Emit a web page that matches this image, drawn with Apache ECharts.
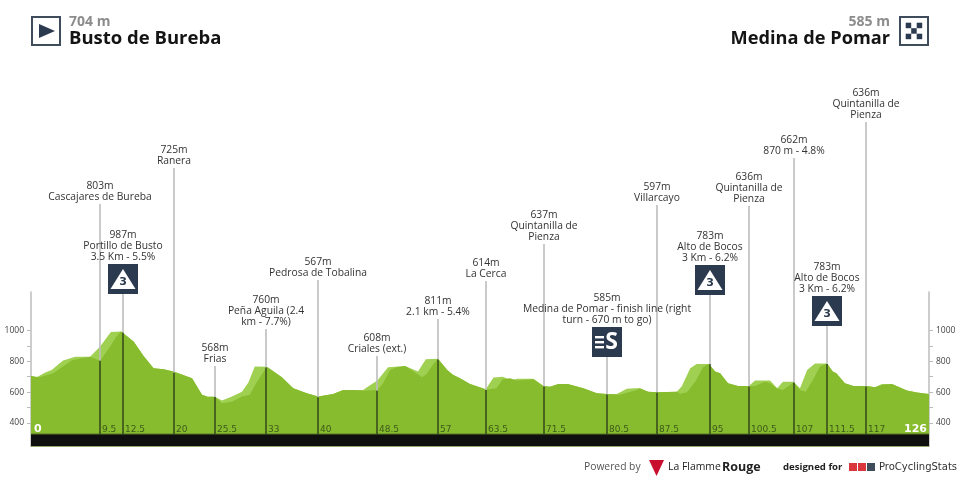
<!DOCTYPE html>
<html><head><meta charset="utf-8">
<style>html,body{margin:0;padding:0;background:#fff}#c{width:960px;height:480px}</style>
<script src="https://cdn.jsdelivr.net/npm/echarts@6/dist/echarts.min.js"></script>
</head><body><div id="c"></div>
<script>
const upperKm=[0,0.8,2,2.9,4.5,6.2,8.3,9.7,11.2,12.7,14.4,15.8,17.2,18.6,20,22.6,24,24.8,25.8,26.8,28.2,29.6,30.5,31.4,33.1,35.2,36.8,38.7,40.3,42.4,43.8,45.2,46.6,47.3,48.6,50.1,52.5,54.3,55.4,57.1,58.4,59.2,60.2,61.6,63.8,64.9,66.2,67.4,68.2,70.5,71.9,72.8,74,75.3,77.5,79.4,80.8,82.2,83.6,84.7,85.4,86.6,87.8,90.6,91.3,92.5,93.4,95.1,96,96.7,97.8,99.2,100.7,101.6,103.7,104.7,105.5,107,107.9,108.9,110,111.7,112.5,113,114.2,115.4,117.3,118.4,119.4,120.8,122.9,124.3,126];
const upperAlt=[705,697,727,744,805,829,829,896,991,993,928,835,755,749,733,690,582,569,569,545,571,603,662,766,764,697,625,593,571,588,614,614,614,636,675,762,770,733,814,816,744,712,690,653,619,694,699,675,686,686,640,634,653,653,625,593,588,588,621,625,625,603,599,603,636,755,783,783,733,723,658,640,640,675,675,625,668,668,625,744,785,785,733,723,658,640,640,631,653,653,610,597,588];
const lowerKm=[0,1.2,3.1,5.7,7.1,8.3,9.7,11.1,12,12.6,14.4,15.8,17.2,18.6,20,22.6,24,24.8,25.8,26.8,28.2,29.6,30.7,31.7,33.1,35.2,36.8,38.7,40.3,42.4,43.8,45.2,46.6,48.6,49.4,50.4,51.3,52.5,54.9,55.5,56.4,57.1,58.4,59.2,60.2,61.6,63.8,64.4,65.3,66.2,67.2,68.2,70.5,71.9,72.8,74,75.3,77.5,79.4,80.8,82.6,85,85.4,86.6,87.8,90.6,91.1,92,93.2,94.3,95.1,96,96.7,97.8,99.2,100.7,101.6,103,103.7,104.7,105.5,107,107.9,108.7,109.7,110.7,111.7,112.5,113,114.2,115.4,117.3,118.4,119.6,120.8,122.9,124.3,126];
const lowerAlt=[705,697,723,805,820,829,803,896,961,993,928,835,755,749,733,690,582,569,569,528,538,571,582,668,764,697,625,593,571,588,614,614,608,614,658,744,762,770,697,718,777,816,744,712,690,653,619,619,625,684,690,675,684,640,634,653,653,625,593,588,582,614,625,603,599,603,590,597,668,762,783,733,723,658,640,640,640,668,658,623,614,662,614,603,679,766,785,733,723,658,640,640,631,647,653,610,597,588];
const yTicks=[400,500,600,700,800,900,1000];
const yLabels=[400,600,800,1000];
const pinKm=[9.68,12.9,20.1,25.8,33,40.3,48.55,57.1,63.8,72,80.8,87.8,95.3,100.7,107.05,111.7,117.2];
const pinAlt=[803,987,725,568,760,567,608,811,614,637,585,597,783,636,662,783,636];
const pinKmLabel=['9.5','12.5','20','25.5','33','40','48.5','57','63.5','71.5','80.5','87.5','95','100.5','107','111.5','117'];
const pinText=[
'803m\nCascajares de Bureba',
'987m\nPortillo de Busto\n3.5 Km - 5.5%',
'725m\nRanera',
'568m\nFrias',
'760m\nPeña Aguila (2.4\nkm - 7.7%)',
'567m\nPedrosa de Tobalina',
'608m\nCriales (ext.)',
'811m\n2.1 km - 5.4%',
'614m\nLa Cerca',
'637m\nQuintanilla de\nPienza',
'585m\nMedina de Pomar - finish line (right\nturn - 670 m to go)',
'597m\nVillarcayo',
'783m\nAlto de Bocos\n3 Km - 6.2%',
'636m\nQuintanilla de\nPienza',
'662m\n870 m - 4.8%',
'783m\nAlto de Bocos\n3 Km - 6.2%',
'636m\nQuintanilla de\nPienza'];
const startKm=[0], startLabel=['0'], endKm=[126], endLabel=['126'];
const barKm=[0,126], barAlt=[328,328];

// layout only: pixel tops of the pin stems and the badge kinds
const pinTopPx=[204,294,168,366,329,280,356,319,281,244,357,205,295,206,158,326,122];
const badge=[null,'3',null,null,null,null,null,null,null,null,'S',null,'3',null,null,'3',null];

const TXT='"Open Sans","Noto Sans",sans-serif';
const NAVY='#2b3a4e';
const zip=(a,b)=>a.map((x,i)=>[x,b[i]]);
const chart=echarts.init(document.getElementById('c'),null,{renderer:'canvas'});

function renderPin(p,api){
  const i=api.value(4);
  const x=Math.round(api.coord([api.value(0),0])[0]);
  const yAlt=api.coord([0,api.value(1)])[1];
  const yBar=api.coord([0,barAlt[0]])[1];
  const top=pinTopPx[i];
  const kids=[
    {type:'line',shape:{x1:x,y1:top,x2:x,y2:yAlt},style:{stroke:'#bdbdbd',lineWidth:1.6},z2:1},
    {type:'line',shape:{x1:x,y1:yAlt,x2:x,y2:yBar},style:{stroke:'#33471a',lineWidth:1.5},z2:2},
    {type:'text',x:x+2,y:yBar-4.5,style:{text:pinKmLabel[i],fill:'#3d5a1a',font:'9px "DejaVu Sans"',textVerticalAlign:'middle',textAlign:'left'},z2:3}
  ];
  let textBottom=top-1.5;
  if(badge[i]){
    const b=top-30;
    textBottom=b-1.5;
    kids.push({type:'rect',shape:{x:x-15,y:b,width:30,height:30},style:{fill:NAVY},z2:4});
    if(badge[i]==='3'){
      kids.push({type:'polygon',shape:{points:[[x,b+5],[x+12.5,b+25],[x-12.5,b+25]]},style:{fill:'#fff'},z2:5});
      kids.push({type:'text',x:x,y:b+18,style:{text:'3',fill:NAVY,font:'bold 11px "DejaVu Sans"',textAlign:'center',textVerticalAlign:'middle'},z2:6});
    }else{
      kids.push({type:'rect',shape:{x:x-12,y:b+9,width:9,height:2.4},style:{fill:'#fff'},z2:5});
      kids.push({type:'rect',shape:{x:x-12,y:b+14,width:9,height:2.4},style:{fill:'#fff'},z2:5});
      kids.push({type:'rect',shape:{x:x-12,y:b+19,width:9,height:2.4},style:{fill:'#fff'},z2:5});
      kids.push({type:'text',x:x+4.5,y:b+15,style:{text:'S',fill:'#fff',font:'bold 23px "Open Sans"',textAlign:'center',textVerticalAlign:'middle'},z2:6});
    }
  }
  kids.push({type:'text',x:x,y:textBottom,style:{text:pinText[i],fill:'#333',font:'10.3px '+TXT,lineHeight:11,textAlign:'center',textVerticalAlign:'bottom'},z2:10});
  return {type:'group',children:kids};
}

const flagX=649;
const graphic=[
  {type:'rect',shape:{x:32,y:17,width:28,height:28},style:{fill:'#fff',stroke:'#3e4c5c',lineWidth:2}},
  {type:'polygon',shape:{points:[[39,24],[55,31],[39,38]]},style:{fill:NAVY}},
  {type:'text',x:69,y:22,style:{text:'704 m',fill:'#8c8c8c',font:'bold 14px "Open Sans"',textVerticalAlign:'middle'}},
  {type:'text',x:69,y:39,style:{text:'Busto de Bureba',fill:'#141414',font:'bold 18.5px "Open Sans"',textVerticalAlign:'middle'}},
  {type:'rect',shape:{x:900,y:17,width:28,height:28},style:{fill:'#fff',stroke:'#3e4c5c',lineWidth:2}},
  {type:'text',x:890,y:22,style:{text:'585 m',fill:'#8c8c8c',font:'bold 14px "Open Sans"',textAlign:'right',textVerticalAlign:'middle'}},
  {type:'text',x:890,y:39,style:{text:'Medina de Pomar',fill:'#141414',font:'bold 18.2px "Open Sans"',textAlign:'right',textVerticalAlign:'middle'}},
  {type:'text',x:584,y:467,style:{text:'Powered by',fill:'#555',font:'10.3px "Open Sans"',textVerticalAlign:'middle'}},
  {type:'polygon',shape:{points:[[flagX,460],[flagX+15,460],[flagX+7.5,476]]},style:{fill:'#c8102e'}},
  {type:'text',x:flagX+19,y:467,style:{text:'La Flamme',fill:'#222',font:'10.4px "Open Sans"',textVerticalAlign:'middle'}},
  {type:'text',x:722,y:467,style:{text:'Rouge',fill:'#222',font:'bold 12.5px "Open Sans"',textVerticalAlign:'middle'}},
  {type:'text',x:783,y:467,style:{text:'designed for',fill:'#222',font:'bold 9.6px "Open Sans"',textVerticalAlign:'middle'}},
  {type:'rect',shape:{x:849,y:463,width:8,height:8},style:{fill:'#d9363e'}},
  {type:'rect',shape:{x:858,y:463,width:8,height:8},style:{fill:'#d9363e'}},
  {type:'rect',shape:{x:867,y:463,width:8,height:8},style:{fill:'#3e4c5c'}},
  {type:'text',x:879,y:467,style:{text:'ProCyclingStats',fill:'#333',font:'10px "DejaVu Sans"',textVerticalAlign:'middle'}}
];
for(let r=0;r<3;r++)for(let c=0;c<3;c++){ if((r+c)%2===0) graphic.push({type:'rect',shape:{x:905.7+c*5.5,y:22.7+r*5.5,width:5.5,height:5.5},style:{fill:NAVY}}); }

const yAx=(pos)=>({type:'value',position:pos,min:250,max:1250,
  axisLine:{show:true,lineStyle:{color:'#bdbdbd',width:1.5}},
  axisTick:{show:true,length:4,customValues:yTicks,lineStyle:{color:'#bbb'}},
  axisLabel:{show:true,customValues:yLabels,margin:7,color:'#444',fontSize:8.5,fontFamily:'Open Sans',formatter:v=>String(v)},
  splitLine:{show:false}});

chart.setOption({
  animation:false,
  grid:{left:31,right:31,top:292,bottom:34,outerBoundsMode:'none'},
  xAxis:{type:'value',min:0,max:126,axisLine:{show:true,lineStyle:{color:'#93a86a',width:1}},axisTick:{show:false},axisLabel:{show:false},splitLine:{show:false}},
  yAxis:[yAx('left'),yAx('right')],
  graphic:graphic,
  series:[
    {type:'line',data:zip(upperKm,upperAlt),symbol:'none',lineStyle:{width:0},areaStyle:{color:'#a0d052',opacity:1,origin:'start'},z:2},
    {type:'line',data:zip(lowerKm,lowerAlt),symbol:'none',lineStyle:{width:0},areaStyle:{color:'#86bc2e',opacity:1,origin:'start'},z:3},
    {type:'line',data:zip(barKm,barAlt),symbol:'none',lineStyle:{width:1,color:'#5c7a26'},areaStyle:{color:'#0f0f0f',opacity:1,origin:'start'},z:4},
    {type:'custom',coordinateSystem:'cartesian2d',xAxisIndex:0,yAxisIndex:0,z:5,clip:false,
      data:pinKm.map((k,i)=>[k,pinAlt[i],0,0,i]),
      encode:{x:0,y:1},renderItem:renderPin},
    {type:'custom',coordinateSystem:'cartesian2d',z:6,clip:false,silent:true,
      data:[[startKm[0],0],[endKm[0],0]],
      encode:{x:0},
      renderItem:(p,api)=>{const i=p.dataIndex;const x=api.coord([api.value(0),0])[0];const y=api.coord([0,barAlt[0]])[1]-5;
        return {type:'text',x:i?x-2:x+3,y:y,style:{text:i?endLabel[0]:startLabel[0],fill:'#fff',font:'bold 11px "DejaVu Sans"',textAlign:i?'right':'left',textVerticalAlign:'middle'}};}}
  ]
});
</script></body></html>
